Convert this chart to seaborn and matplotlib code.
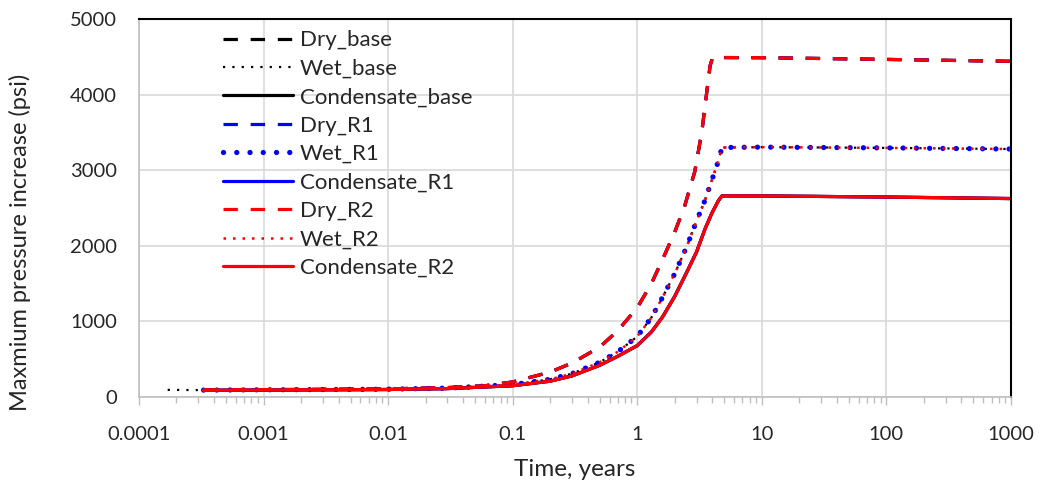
import numpy as np
import pandas as pd
import matplotlib
matplotlib.use("Agg")
import matplotlib.pyplot as plt
import matplotlib.ticker as mticker
import seaborn as sns

# ---- data ----
t_dry = [3.3e-4, 1e-3, 3e-3, 0.01, 0.03, 0.06, 0.1, 0.2, 0.3, 0.5, 0.7, 1.0, 1.3, 1.6,
         2.0, 2.4, 2.9, 3.3, 3.6, 3.85, 4.0, 4.2, 10, 100, 1000]
v_dry = [95, 98, 102, 108, 125, 150, 200, 330, 450, 660, 880, 1180, 1500, 1820,
         2180, 2520, 2980, 3500, 4000, 4380, 4470, 4490, 4488, 4465, 4440]

t_wet = [3.3e-4, 1e-3, 3e-3, 0.01, 0.03, 0.1, 0.2, 0.3, 0.5, 0.7, 1.0, 1.3, 1.6,
         2.0, 2.5, 3.0, 3.5, 4.0, 4.4, 4.8, 10, 100, 1000]
v_wet = [92, 96, 99, 104, 118, 165, 235, 310, 460, 600, 800, 1050, 1320,
         1630, 1990, 2330, 2600, 2880, 3080, 3300, 3305, 3295, 3280]

t_wet_base_start = [1.7e-4]
v_wet_base_start = [95]

t_cond = [3.3e-4, 1e-3, 3e-3, 0.01, 0.03, 0.1, 0.2, 0.3, 0.5, 0.7, 1.0, 1.3, 1.6,
          2.0, 2.5, 3.0, 3.5, 4.0, 4.5, 4.8, 10, 100, 1000]
v_cond = [90, 93, 96, 100, 112, 150, 210, 280, 420, 540, 680, 860, 1060,
          1330, 1650, 1920, 2220, 2440, 2600, 2660, 2660, 2645, 2625]

series_labels = ["Dry_base", "Wet_base", "Condensate_base",
                 "Dry_R1", "Wet_R1", "Condensate_R1",
                 "Dry_R2", "Wet_R2", "Condensate_R2"]
x_tick_labels = ["0.0001", "0.001", "0.01", "0.1", "1", "10", "100", "1000"]
y_ticks = [0, 1000, 2000, 3000, 4000, 5000]

series_data = {
    "Dry_base": (t_dry, v_dry),
    "Wet_base": (t_wet_base_start + t_wet, v_wet_base_start + v_wet),
    "Condensate_base": (t_cond, v_cond),
    "Dry_R1": (t_dry, v_dry),
    "Wet_R1": (t_wet, v_wet),
    "Condensate_R1": (t_cond, v_cond),
    "Dry_R2": (t_dry, v_dry),
    "Wet_R2": (t_wet, v_wet),
    "Condensate_R2": (t_cond, v_cond),
}

# ---- styles ----
dash = (0, (4.5, 4.0))
styles = {
    "Dry_base": dict(color="black", linewidth=2.3, linestyle=dash),
    "Wet_base": dict(color="black", linewidth=1.6, linestyle=(0, (1, 3.2))),
    "Condensate_base": dict(color="black", linewidth=2.3, linestyle="-"),
    "Dry_R1": dict(color="#0000FF", linewidth=2.3, linestyle=dash),
    "Wet_R1": dict(color="#0000FF", linewidth=3.8, linestyle=(0, (0.01, 2.5)),
                   dash_capstyle="round"),
    "Condensate_R1": dict(color="#0000FF", linewidth=2.3, linestyle="-"),
    "Dry_R2": dict(color="#FF0000", linewidth=2.3, linestyle=dash),
    "Wet_R2": dict(color="#FF0000", linewidth=1.8, linestyle=(0, (1, 2.8))),
    "Condensate_R2": dict(color="#FF0000", linewidth=2.3, linestyle="-"),
}

sns.set_theme(style="white")
plt.rcParams["font.family"] = ["Lato", "DejaVu Sans"]

fig = plt.figure(figsize=(10.41, 4.86), dpi=100)
ax = fig.add_axes([0.1335, 0.183, 0.971 - 0.1335, 0.961 - 0.183])

for name in series_labels:
    t, v = series_data[name]
    df = pd.DataFrame({"t": t, "v": v})
    sns.lineplot(data=df, x="t", y="v", ax=ax, label=name, sort=False,
                 estimator=None, **styles[name])

ax.set_xscale("log")
ax.set_xlim(1e-4, 1000)
ax.set_ylim(0, 5000)
ax.set_xticks([float(s) for s in x_tick_labels])
ax.set_xticklabels(x_tick_labels)
ax.xaxis.set_minor_locator(mticker.LogLocator(base=10, subs=np.arange(2, 10)))
ax.xaxis.set_minor_formatter(mticker.NullFormatter())
ax.set_yticks(y_ticks)
ax.set_yticklabels([str(y) for y in y_ticks])

ax.grid(True, which="major", color="#d9d9d9", linewidth=1.2)
ax.set_axisbelow(True)

for side in ["top", "right"]:
    ax.spines[side].set_color("black")
    ax.spines[side].set_linewidth(1.5)
for side in ["left", "bottom"]:
    ax.spines[side].set_color("#bfbfbf")
    ax.spines[side].set_linewidth(1.2)

ax.tick_params(axis="x", which="major", direction="out", length=6, width=1,
               color="#bfbfbf", labelsize=14.5, pad=15, bottom=True)
ax.tick_params(axis="x", which="minor", direction="out", length=4, width=1,
               color="#bfbfbf", bottom=True)
ax.tick_params(axis="y", which="both", length=0, labelsize=14.5, pad=16)

ax.set_xlabel("Time, years", fontsize=17.5, labelpad=11)
ax.set_ylabel("Maxmium pressure increase (psi)", fontsize=17)
ax.yaxis.set_label_coords(-0.124, 0.41)

handles, labels = ax.get_legend_handles_labels()
ax.legend(handles, labels, loc="upper left", bbox_to_anchor=(0.0963, 0.97),
          frameon=False, fontsize=16, handlelength=3.15, handletextpad=0.3,
          labelspacing=0.38, borderpad=0, borderaxespad=0)

fig.savefig("out.png", dpi=100)
